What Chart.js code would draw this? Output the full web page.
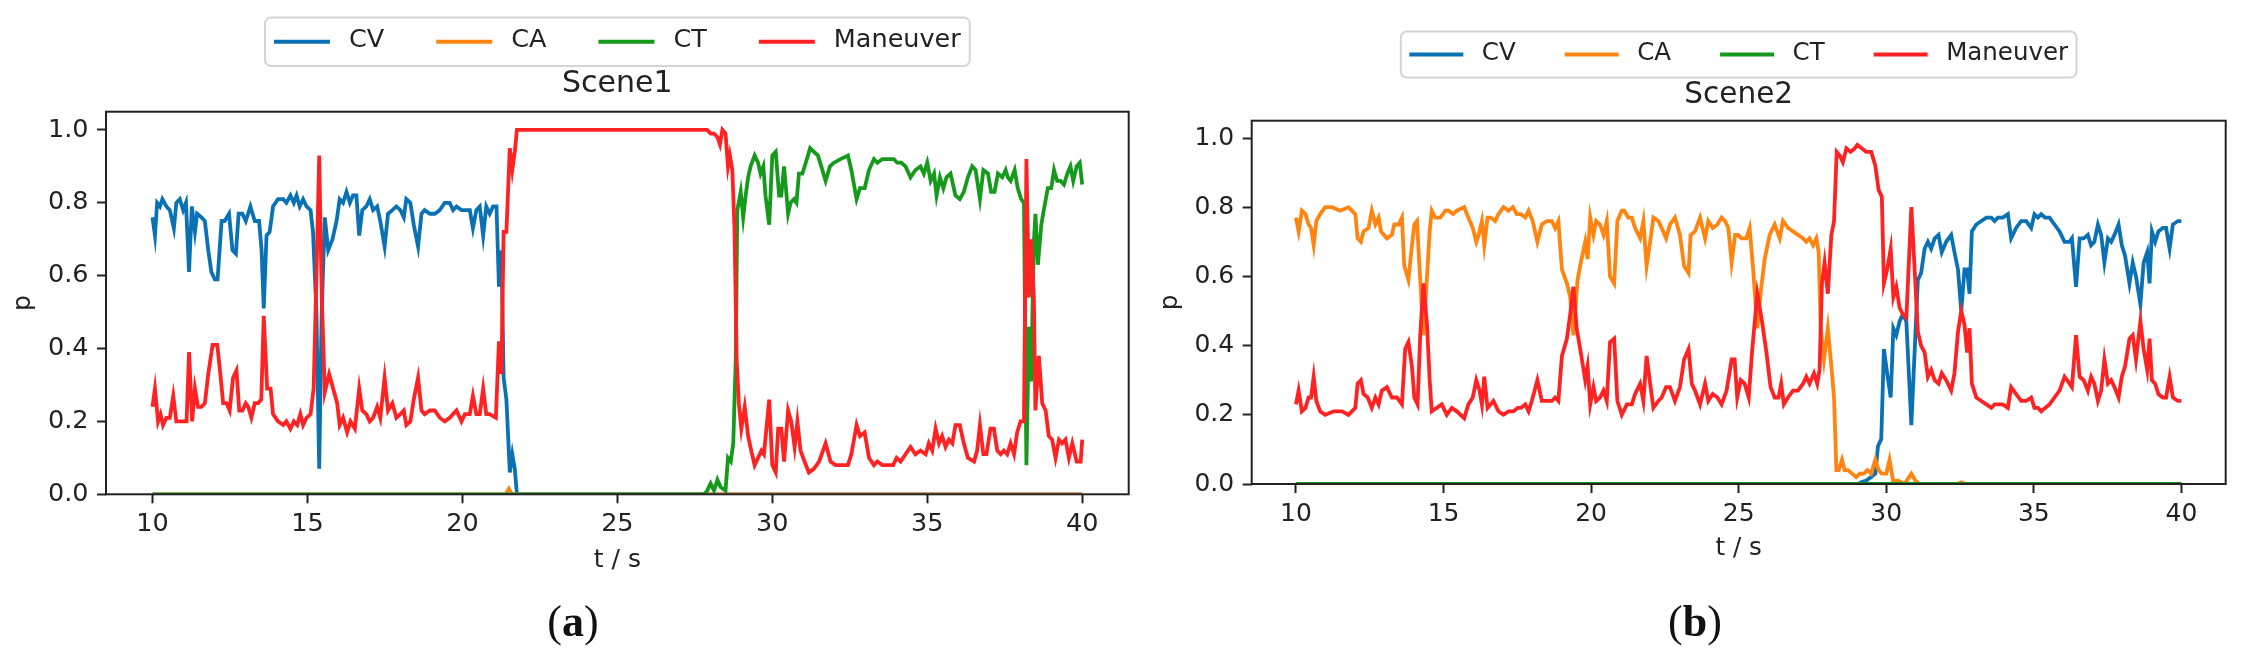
<!DOCTYPE html>
<html lang="en">
<head>
<meta charset="UTF-8">
<title>Scene1 / Scene2 model probabilities</title>
<script src="https://cdn.jsdelivr.net/npm/chart.js"></script>
<style>
    html, body { margin: 0; padding: 0; background: #fff; }
    body { position: relative; width: 2242px; height: 658px; overflow: hidden; }
    canvas { position: absolute; top: 0; }
    #chartA { left: 0; }
    #chartB { left: 1148px; }
    .caption {
        position: absolute; top: 596px; width: 120px; text-align: center;
        font-family: "Liberation Serif", serif; font-size: 44px; color: #111;
    }
</style>
</head>
<body>

<canvas id="chartA" width="1150" height="600"></canvas>
<canvas id="chartB" width="1094" height="600"></canvas>
<div class="caption" style="left:513px">(<b>a</b>)</div>
<div class="caption" style="left:1635px">(<b>b</b>)</div>

<script>
    // series names, colours and ticks
    const seriesNames = ['CV', 'CA', 'CT', 'Maneuver'];
    const seriesColors = ['#0a72b4', '#ff8410', '#159a1c', '#ff2222'];
    const xTicks = [10, 15, 20, 25, 30, 35, 40];
    const yTicks = [0, 0.2, 0.4, 0.6, 0.8, 1.0];
    const sceneTitles = ['Scene1', 'Scene2'];

    // Scene1 : [t, p]
    const s1CV = [[10.00,0.76],[10.08,0.71],[10.15,0.80],[10.24,0.79],[10.32,0.81],[10.45,0.79],[10.56,0.78],[10.69,0.73],[10.77,0.80],[10.88,0.81],[10.99,0.78],[11.08,0.80],[11.18,0.61],[11.27,0.79],[11.37,0.72],[11.44,0.77],[11.58,0.76],[11.69,0.75],[11.80,0.67],[11.90,0.61],[12.01,0.59],[12.10,0.59],[12.23,0.75],[12.33,0.75],[12.47,0.77],[12.58,0.67],[12.69,0.66],[12.78,0.77],[12.90,0.77],[13.01,0.75],[13.16,0.79],[13.30,0.75],[13.44,0.75],[13.52,0.67],[13.59,0.51],[13.68,0.71],[13.78,0.72],[13.89,0.79],[14.05,0.81],[14.22,0.81],[14.32,0.80],[14.45,0.82],[14.56,0.80],[14.65,0.82],[14.75,0.79],[14.86,0.81],[14.97,0.79],[15.10,0.78],[15.18,0.72],[15.29,0.50],[15.38,0.07],[15.46,0.50],[15.56,0.76],[15.67,0.67],[15.81,0.70],[15.94,0.75],[16.04,0.81],[16.15,0.80],[16.26,0.83],[16.37,0.80],[16.47,0.82],[16.58,0.82],[16.67,0.71],[16.77,0.78],[16.90,0.79],[17.01,0.81],[17.12,0.78],[17.25,0.79],[17.35,0.75],[17.49,0.68],[17.60,0.77],[17.74,0.78],[17.87,0.79],[18.00,0.78],[18.11,0.76],[18.19,0.81],[18.32,0.80],[18.43,0.74],[18.57,0.68],[18.68,0.77],[18.78,0.78],[18.95,0.77],[19.11,0.77],[19.27,0.78],[19.43,0.80],[19.59,0.80],[19.70,0.78],[19.81,0.79],[19.97,0.78],[20.08,0.78],[20.24,0.78],[20.34,0.73],[20.45,0.78],[20.56,0.79],[20.67,0.71],[20.77,0.79],[20.88,0.77],[20.99,0.79],[21.10,0.79],[21.18,0.57],[21.26,0.67],[21.33,0.32],[21.42,0.26],[21.53,0.06],[21.61,0.11],[21.69,0.07],[21.76,0.0],[40.00,0.0]];
    const s1CA = [[10.00,0.0],[21.40,0.0],[21.50,0.015],[21.60,0.0],[40.00,0.0]];
    const s1CT = [[10.00,0.0],[27.80,0.0],[27.90,0.01],[28.01,0.03],[28.12,0.01],[28.23,0.04],[28.33,0.02],[28.49,0.01],[28.57,0.10],[28.66,0.09],[28.74,0.14],[28.82,0.37],[28.87,0.78],[28.98,0.83],[29.06,0.76],[29.14,0.82],[29.22,0.87],[29.30,0.90],[29.43,0.93],[29.54,0.91],[29.62,0.88],[29.71,0.90],[29.78,0.82],[29.90,0.74],[30.00,0.93],[30.11,0.94],[30.22,0.82],[30.29,0.82],[30.38,0.90],[30.51,0.77],[30.59,0.80],[30.70,0.81],[30.78,0.80],[30.86,0.88],[30.97,0.88],[31.08,0.91],[31.22,0.95],[31.34,0.94],[31.47,0.93],[31.58,0.90],[31.72,0.86],[31.86,0.90],[31.99,0.91],[32.20,0.92],[32.44,0.93],[32.55,0.89],[32.72,0.81],[32.83,0.84],[32.98,0.84],[33.12,0.89],[33.28,0.92],[33.39,0.91],[33.55,0.92],[33.76,0.92],[33.92,0.92],[34.03,0.91],[34.16,0.91],[34.30,0.90],[34.46,0.87],[34.62,0.89],[34.78,0.90],[34.89,0.88],[35.00,0.91],[35.11,0.86],[35.22,0.88],[35.30,0.82],[35.41,0.87],[35.52,0.84],[35.62,0.87],[35.75,0.88],[35.91,0.82],[36.05,0.81],[36.18,0.83],[36.31,0.87],[36.45,0.90],[36.56,0.89],[36.70,0.81],[36.81,0.89],[36.96,0.88],[37.06,0.83],[37.17,0.83],[37.28,0.88],[37.42,0.87],[37.53,0.89],[37.60,0.87],[37.69,0.86],[37.82,0.89],[37.92,0.84],[38.03,0.81],[38.12,0.80],[38.20,0.08],[38.28,0.46],[38.35,0.31],[38.44,0.69],[38.49,0.77],[38.57,0.63],[38.68,0.74],[38.76,0.78],[38.89,0.84],[39.00,0.84],[39.09,0.89],[39.19,0.86],[39.30,0.86],[39.41,0.85],[39.52,0.88],[39.62,0.90],[39.71,0.86],[39.82,0.90],[39.92,0.91],[40.00,0.85]];
    const s1Man = [[10.00,0.24],[10.08,0.29],[10.18,0.20],[10.26,0.22],[10.34,0.19],[10.45,0.21],[10.56,0.21],[10.67,0.27],[10.77,0.20],[10.88,0.20],[10.99,0.20],[11.10,0.20],[11.18,0.39],[11.28,0.20],[11.37,0.29],[11.47,0.24],[11.58,0.24],[11.69,0.25],[11.80,0.33],[11.94,0.41],[12.09,0.41],[12.19,0.33],[12.28,0.25],[12.39,0.25],[12.49,0.23],[12.60,0.32],[12.71,0.34],[12.80,0.23],[12.90,0.23],[13.01,0.25],[13.09,0.24],[13.19,0.21],[13.30,0.25],[13.41,0.25],[13.51,0.26],[13.59,0.49],[13.70,0.29],[13.81,0.29],[13.89,0.22],[14.05,0.20],[14.22,0.19],[14.32,0.20],[14.45,0.18],[14.56,0.20],[14.67,0.19],[14.77,0.22],[14.86,0.19],[14.97,0.21],[15.10,0.22],[15.20,0.29],[15.29,0.60],[15.38,0.93],[15.46,0.55],[15.56,0.28],[15.70,0.33],[15.83,0.29],[15.96,0.25],[16.04,0.19],[16.15,0.21],[16.28,0.17],[16.39,0.20],[16.53,0.18],[16.67,0.29],[16.77,0.23],[16.90,0.22],[17.01,0.20],[17.12,0.21],[17.25,0.24],[17.35,0.21],[17.49,0.32],[17.60,0.23],[17.74,0.25],[17.87,0.21],[18.00,0.22],[18.11,0.23],[18.19,0.19],[18.32,0.20],[18.43,0.26],[18.57,0.32],[18.68,0.23],[18.78,0.22],[18.95,0.23],[19.11,0.23],[19.27,0.21],[19.43,0.20],[19.59,0.21],[19.70,0.22],[19.81,0.23],[19.97,0.20],[20.08,0.22],[20.24,0.22],[20.34,0.27],[20.45,0.22],[20.56,0.22],[20.67,0.29],[20.77,0.22],[20.88,0.22],[21.08,0.21],[21.18,0.42],[21.26,0.33],[21.33,0.72],[21.42,0.72],[21.53,0.95],[21.61,0.89],[21.69,0.94],[21.76,1.0],[27.80,1.0],[27.90,1.0],[28.01,0.99],[28.12,0.99],[28.23,0.98],[28.31,0.96],[28.39,1.0],[28.49,0.99],[28.57,0.90],[28.63,0.93],[28.71,0.89],[28.78,0.73],[28.85,0.37],[28.92,0.25],[29.00,0.18],[29.11,0.24],[29.22,0.16],[29.32,0.12],[29.43,0.08],[29.54,0.10],[29.65,0.12],[29.73,0.11],[29.82,0.19],[29.90,0.26],[30.00,0.08],[30.11,0.06],[30.19,0.18],[30.29,0.18],[30.38,0.09],[30.51,0.23],[30.61,0.20],[30.72,0.13],[30.81,0.20],[30.91,0.12],[31.04,0.09],[31.18,0.06],[31.34,0.07],[31.51,0.09],[31.72,0.14],[31.88,0.09],[32.04,0.08],[32.20,0.08],[32.44,0.08],[32.55,0.11],[32.72,0.19],[32.83,0.16],[32.98,0.17],[33.12,0.10],[33.28,0.08],[33.39,0.09],[33.55,0.08],[33.76,0.08],[33.90,0.08],[34.01,0.10],[34.14,0.09],[34.30,0.11],[34.46,0.13],[34.62,0.11],[34.78,0.12],[34.95,0.11],[35.05,0.14],[35.16,0.12],[35.27,0.18],[35.38,0.14],[35.48,0.16],[35.59,0.13],[35.70,0.15],[35.81,0.14],[35.91,0.19],[36.05,0.19],[36.18,0.14],[36.31,0.10],[36.51,0.09],[36.61,0.12],[36.70,0.19],[36.81,0.11],[36.91,0.11],[37.04,0.18],[37.15,0.18],[37.26,0.12],[37.37,0.11],[37.47,0.12],[37.58,0.11],[37.69,0.14],[37.80,0.11],[37.90,0.17],[38.01,0.20],[38.12,0.20],[38.20,0.92],[38.28,0.54],[38.35,0.70],[38.44,0.54],[38.49,0.23],[38.60,0.38],[38.71,0.25],[38.82,0.23],[38.92,0.16],[39.03,0.15],[39.14,0.10],[39.25,0.15],[39.35,0.14],[39.46,0.15],[39.57,0.10],[39.68,0.14],[39.82,0.09],[39.95,0.09],[40.00,0.15]];

    // Scene2 : [t, p]
    const s2CV = [[10.00,0.0],[29.04,0.0],[29.15,0.005],[29.32,0.01],[29.49,0.02],[29.63,0.03],[29.72,0.11],[29.83,0.13],[29.92,0.39],[30.03,0.32],[30.15,0.25],[30.24,0.45],[30.34,0.43],[30.45,0.47],[30.56,0.49],[30.68,0.47],[30.85,0.17],[30.98,0.42],[31.07,0.59],[31.18,0.61],[31.30,0.68],[31.41,0.70],[31.52,0.68],[31.64,0.71],[31.77,0.72],[31.88,0.67],[32.03,0.70],[32.20,0.72],[32.31,0.67],[32.43,0.62],[32.54,0.50],[32.65,0.62],[32.74,0.62],[32.82,0.55],[32.90,0.73],[33.05,0.75],[33.22,0.76],[33.39,0.77],[33.56,0.77],[33.67,0.76],[33.78,0.77],[33.95,0.77],[34.12,0.78],[34.23,0.71],[34.40,0.74],[34.57,0.76],[34.74,0.76],[34.91,0.74],[35.02,0.78],[35.14,0.77],[35.25,0.78],[35.38,0.77],[35.53,0.77],[35.70,0.75],[35.87,0.73],[36.04,0.70],[36.21,0.70],[36.29,0.71],[36.43,0.57],[36.55,0.71],[36.69,0.71],[36.83,0.72],[36.94,0.69],[37.05,0.70],[37.17,0.75],[37.28,0.72],[37.39,0.64],[37.51,0.71],[37.62,0.70],[37.73,0.72],[37.87,0.75],[37.98,0.69],[38.09,0.66],[38.24,0.58],[38.35,0.64],[38.46,0.60],[38.61,0.52],[38.72,0.64],[38.84,0.67],[38.92,0.58],[39.00,0.73],[39.11,0.70],[39.22,0.73],[39.37,0.74],[39.48,0.74],[39.60,0.68],[39.71,0.75],[39.88,0.76],[40.00,0.76]];
    const s2CA = [[10.00,0.77],[10.09,0.73],[10.20,0.79],[10.32,0.78],[10.43,0.75],[10.51,0.74],[10.60,0.69],[10.69,0.76],[10.82,0.78],[10.99,0.80],[11.22,0.80],[11.50,0.79],[11.78,0.80],[12.01,0.78],[12.09,0.71],[12.20,0.70],[12.29,0.73],[12.46,0.74],[12.57,0.79],[12.69,0.75],[12.80,0.77],[12.88,0.73],[13.08,0.71],[13.25,0.72],[13.33,0.75],[13.48,0.75],[13.59,0.77],[13.67,0.63],[13.81,0.59],[13.93,0.69],[14.01,0.75],[14.10,0.76],[14.21,0.59],[14.32,0.43],[14.44,0.60],[14.53,0.73],[14.60,0.79],[14.72,0.77],[14.89,0.77],[15.06,0.79],[15.17,0.79],[15.32,0.78],[15.45,0.79],[15.70,0.80],[15.84,0.77],[15.99,0.74],[16.11,0.70],[16.19,0.72],[16.30,0.76],[16.38,0.69],[16.49,0.77],[16.60,0.77],[16.75,0.76],[16.86,0.78],[17.03,0.80],[17.20,0.79],[17.35,0.80],[17.48,0.78],[17.62,0.78],[17.77,0.77],[17.88,0.79],[18.02,0.76],[18.18,0.70],[18.33,0.75],[18.50,0.76],[18.67,0.76],[18.78,0.74],[18.89,0.76],[19.01,0.62],[19.18,0.58],[19.29,0.54],[19.40,0.43],[19.54,0.59],[19.65,0.64],[19.80,0.70],[19.88,0.65],[19.97,0.77],[20.08,0.72],[20.17,0.76],[20.30,0.75],[20.42,0.72],[20.53,0.76],[20.64,0.60],[20.78,0.58],[20.89,0.76],[21.04,0.79],[21.12,0.79],[21.26,0.77],[21.38,0.77],[21.49,0.74],[21.66,0.71],[21.77,0.76],[21.88,0.63],[22.00,0.70],[22.11,0.77],[22.28,0.76],[22.39,0.74],[22.54,0.71],[22.67,0.75],[22.84,0.77],[23.01,0.72],[23.15,0.63],[23.30,0.61],[23.37,0.72],[23.52,0.73],[23.69,0.77],[23.86,0.71],[23.97,0.76],[24.12,0.74],[24.28,0.75],[24.42,0.77],[24.54,0.76],[24.65,0.74],[24.76,0.64],[24.88,0.72],[24.98,0.72],[25.09,0.71],[25.26,0.71],[25.37,0.74],[25.49,0.62],[25.63,0.45],[25.74,0.55],[25.88,0.65],[26.05,0.72],[26.22,0.75],[26.39,0.71],[26.50,0.76],[26.67,0.74],[26.84,0.73],[27.01,0.72],[27.18,0.71],[27.29,0.70],[27.40,0.71],[27.52,0.69],[27.63,0.71],[27.71,0.67],[27.78,0.45],[27.89,0.36],[28.02,0.45],[28.14,0.34],[28.23,0.25],[28.31,0.04],[28.39,0.04],[28.50,0.07],[28.59,0.04],[28.70,0.04],[28.84,0.03],[28.98,0.02],[29.10,0.03],[29.24,0.03],[29.36,0.04],[29.49,0.03],[29.63,0.07],[29.74,0.04],[29.85,0.03],[30.00,0.03],[30.11,0.07],[30.23,0.01],[30.40,0.01],[30.62,0.0],[30.85,0.03],[30.98,0.01],[31.13,0.0],[32.40,0.0],[32.54,0.005],[32.70,0.0],[40.00,0.0]];
    const s2CT = [[10.00,0.0],[40.00,0.0]];
    const s2Man = [[10.00,0.23],[10.09,0.27],[10.20,0.21],[10.32,0.22],[10.43,0.25],[10.51,0.25],[10.60,0.31],[10.69,0.24],[10.82,0.21],[10.99,0.20],[11.28,0.21],[11.56,0.21],[11.78,0.20],[12.01,0.22],[12.09,0.29],[12.20,0.30],[12.29,0.26],[12.43,0.25],[12.57,0.22],[12.69,0.25],[12.80,0.23],[12.91,0.27],[13.08,0.28],[13.25,0.25],[13.42,0.25],[13.59,0.23],[13.70,0.39],[13.81,0.41],[13.93,0.34],[14.01,0.25],[14.12,0.23],[14.21,0.43],[14.32,0.58],[14.44,0.46],[14.53,0.30],[14.60,0.21],[14.77,0.22],[14.94,0.23],[15.11,0.20],[15.28,0.22],[15.45,0.21],[15.70,0.19],[15.84,0.23],[15.99,0.25],[16.11,0.30],[16.22,0.27],[16.30,0.23],[16.38,0.31],[16.49,0.22],[16.69,0.24],[16.86,0.21],[17.03,0.20],[17.20,0.21],[17.37,0.21],[17.51,0.22],[17.62,0.22],[17.77,0.23],[17.88,0.21],[17.99,0.24],[18.18,0.30],[18.33,0.24],[18.50,0.24],[18.67,0.24],[18.78,0.25],[18.89,0.24],[19.01,0.37],[19.18,0.42],[19.29,0.49],[19.40,0.57],[19.51,0.45],[19.65,0.38],[19.80,0.30],[19.88,0.34],[19.97,0.23],[20.08,0.28],[20.17,0.24],[20.30,0.25],[20.42,0.27],[20.53,0.24],[20.64,0.41],[20.78,0.42],[20.89,0.24],[21.04,0.20],[21.21,0.23],[21.38,0.23],[21.49,0.26],[21.66,0.29],[21.77,0.24],[21.88,0.37],[22.00,0.29],[22.11,0.22],[22.28,0.24],[22.39,0.25],[22.54,0.28],[22.67,0.28],[22.84,0.24],[23.01,0.28],[23.15,0.36],[23.30,0.39],[23.41,0.29],[23.52,0.27],[23.69,0.23],[23.86,0.29],[23.97,0.24],[24.12,0.26],[24.28,0.25],[24.42,0.23],[24.59,0.27],[24.76,0.36],[24.86,0.36],[24.95,0.25],[25.07,0.30],[25.20,0.29],[25.34,0.25],[25.45,0.38],[25.63,0.55],[25.79,0.47],[25.94,0.38],[26.08,0.28],[26.22,0.25],[26.35,0.25],[26.44,0.29],[26.53,0.23],[26.67,0.25],[26.84,0.27],[27.01,0.27],[27.18,0.29],[27.29,0.31],[27.40,0.29],[27.55,0.32],[27.66,0.29],[27.74,0.33],[27.82,0.58],[27.91,0.64],[28.02,0.55],[28.14,0.72],[28.23,0.76],[28.32,0.96],[28.42,0.95],[28.53,0.93],[28.65,0.97],[28.79,0.96],[28.93,0.97],[29.02,0.98],[29.18,0.97],[29.32,0.96],[29.49,0.96],[29.63,0.92],[29.74,0.85],[29.85,0.83],[29.92,0.58],[30.03,0.62],[30.15,0.68],[30.24,0.54],[30.34,0.57],[30.45,0.51],[30.56,0.49],[30.68,0.48],[30.85,0.80],[30.98,0.59],[31.07,0.44],[31.18,0.40],[31.30,0.38],[31.41,0.31],[31.52,0.33],[31.64,0.30],[31.77,0.29],[31.88,0.32],[32.03,0.30],[32.20,0.27],[32.31,0.32],[32.43,0.44],[32.54,0.50],[32.65,0.46],[32.74,0.38],[32.82,0.45],[32.90,0.29],[33.05,0.25],[33.22,0.24],[33.39,0.23],[33.56,0.22],[33.67,0.23],[33.78,0.23],[33.95,0.23],[34.12,0.22],[34.23,0.28],[34.40,0.26],[34.57,0.24],[34.74,0.24],[34.91,0.25],[35.02,0.22],[35.14,0.22],[35.25,0.21],[35.38,0.22],[35.53,0.23],[35.70,0.25],[35.87,0.27],[36.04,0.31],[36.21,0.29],[36.29,0.28],[36.43,0.43],[36.55,0.31],[36.69,0.30],[36.83,0.27],[36.94,0.31],[37.05,0.29],[37.17,0.24],[37.28,0.27],[37.39,0.36],[37.51,0.29],[37.62,0.30],[37.73,0.28],[37.87,0.25],[37.98,0.31],[38.09,0.34],[38.24,0.42],[38.35,0.43],[38.46,0.36],[38.61,0.47],[38.72,0.39],[38.84,0.33],[38.92,0.42],[39.00,0.30],[39.11,0.29],[39.22,0.26],[39.37,0.25],[39.48,0.25],[39.60,0.31],[39.71,0.25],[39.88,0.24],[40.00,0.24]];

    Chart.defaults.font.family = '"DejaVu Sans", sans-serif';
    Chart.defaults.color = '#222';

    // matplotlib-like legend: framed, one row, placed above the title
    const boxLegend = {
        id: 'boxLegend',
        afterDraw(chart, args, o) {
            const { ctx, chartArea } = chart;
            ctx.save();
            ctx.font = o.size + 'px "DejaVu Sans"';
            const items = chart.data.datasets.map(d => ({
                label: d.label, color: d.borderColor, w: ctx.measureText(d.label).width
            }));
            const total = o.pad * 2 + o.spacing * (items.length - 1)
                + items.reduce((s, it) => s + o.handle + o.gap + it.w, 0);
            let x = (chartArea.left + chartArea.right) / 2 - total / 2;
            ctx.fillStyle = 'rgba(255,255,255,0.8)';
            ctx.strokeStyle = '#d4d4d4';
            ctx.lineWidth = 2;
            ctx.beginPath();
            ctx.roundRect(x, o.top, total, o.height, 6);
            ctx.fill();
            ctx.stroke();
            const cy = o.top + o.height / 2;
            x += o.pad;
            ctx.textBaseline = 'middle';
            items.forEach(it => {
                ctx.strokeStyle = it.color;
                ctx.lineWidth = 4;
                ctx.beginPath();
                ctx.moveTo(x, cy);
                ctx.lineTo(x + o.handle, cy);
                ctx.stroke();
                x += o.handle + o.gap;
                ctx.fillStyle = '#222';
                ctx.fillText(it.label, x, cy - 1);
                x += it.w + o.spacing;
            });
            ctx.restore();
        }
    };

    // full box round the plot area
    const frame = {
        id: 'frame',
        afterDraw(chart) {
            const { ctx, chartArea: a } = chart;
            ctx.save();
            ctx.strokeStyle = '#222';
            ctx.lineWidth = 2;
            ctx.strokeRect(a.left, a.top, a.right - a.left, a.bottom - a.top);
            ctx.restore();
        }
    };

    function makeChart(id, title, series, s) {
        const datasets = series.map((pts, i) => ({
            label: seriesNames[i],
            data: pts.map(p => ({ x: p[0], y: p[1] })),
            borderColor: seriesColors[i],
            backgroundColor: seriesColors[i],
            borderWidth: 3.8,
            pointRadius: 0,
            tension: 0,
            order: series.length - 1 - i
        }));
        return new Chart(document.getElementById(id), {
            type: 'line',
            data: { datasets },
            plugins: [boxLegend, frame],
            options: {
                responsive: false,
                animation: false,
                layout: { padding: s.padding },
                plugins: {
                    legend: { display: false },
                    tooltip: { enabled: false },
                    title: {
                        display: true, text: title, fullSize: false,
                        color: '#222',
                        font: { size: s.titleSize, weight: 'normal' },
                        padding: { top: 0, bottom: s.titleGap }
                    },
                    boxLegend: s.legend
                },
                scales: {
                    x: {
                        type: 'linear', min: 8.5, max: 41.5,
                        afterBuildTicks: sc => { sc.ticks = xTicks.map(v => ({ value: v })); },
                        afterFit: sc => { sc.height = 90; },
                        border: { display: false },
                        grid: { drawOnChartArea: false, tickLength: 9, tickWidth: 2, color: '#222' },
                        ticks: { font: { size: s.tickSize }, padding: 6, maxRotation: 0, callback: v => String(v) },
                        title: { display: true, text: 't / s', font: { size: s.labelSize }, padding: { bottom: s.xTitlePad } }
                    },
                    y: {
                        min: 0, max: 1.05,
                        afterBuildTicks: sc => { sc.ticks = yTicks.map(v => ({ value: v })); },
                        afterFit: sc => { sc.width = s.yWidth; },
                        border: { display: false },
                        grid: { drawOnChartArea: false, tickLength: 9, tickWidth: 2, color: '#222' },
                        ticks: { font: { size: s.tickSize }, padding: 8.5, callback: v => v.toFixed(1) },
                        title: { display: true, text: 'p', font: { size: s.labelSize }, padding: { top: 8 } }
                    }
                }
            }
        });
    }

    makeChart('chartA', sceneTitles[0], [s1CV, s1CA, s1CT, s1Man], {
        padding: { top: 66.5, right: 21.3, bottom: 15.7, left: 0 },
        titleSize: 30, titleGap: 9.2, tickSize: 25.5, labelSize: 25,
        xTitlePad: 9.3, yWidth: 106,
        legend: { size: 25.5, top: 17.6, height: 48.3, pad: 9, handle: 56, gap: 19, spacing: 52 }
    });

    makeChart('chartB', sceneTitles[1], [s2CV, s2CA, s2CT, s2Man], {
        padding: { top: 77.5, right: 16.3, bottom: 26, left: 0 },
        titleSize: 29.5, titleGap: 7.8, tickSize: 25, labelSize: 24.5,
        xTitlePad: 10.5, yWidth: 103.7,
        legend: { size: 24.5, top: 31.5, height: 46.1, pad: 8.5, handle: 54, gap: 18.5, spacing: 49 }
    });
</script>

</body>
</html>
